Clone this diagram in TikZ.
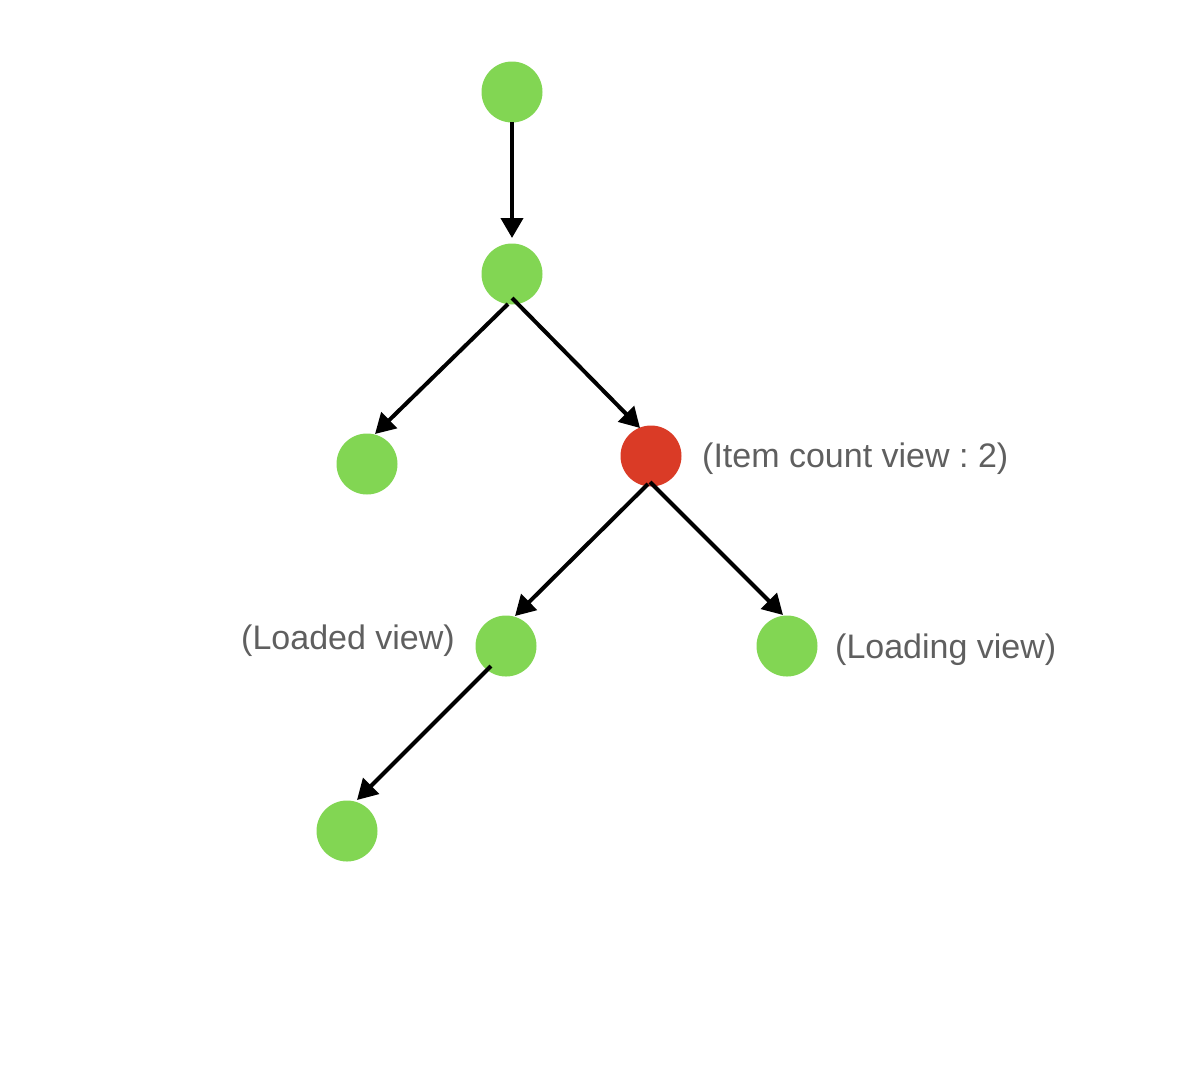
\documentclass[tikz,border=0pt]{standalone}
\usepackage{fontspec}
\setmainfont{Liberation Sans}
\usetikzlibrary{arrows.meta}
\definecolor{vgreen}{HTML}{82D653}
\definecolor{vred}{HTML}{DA3B26}
\definecolor{lbl}{HTML}{5F5F5F}
\tikzset{
  dot/.style={circle, fill=vgreen, minimum size=61pt, inner sep=0pt},
  reddot/.style={dot, fill=vred},
  conn/.style={line width=4pt, -{Triangle[length=20pt,width=22pt]}},
  lab/.style={text=lbl, font=\frenchspacing\fontsize{34}{38}\selectfont, inner sep=0pt}
}
\begin{document}
\begin{tikzpicture}[x=1pt,y=-1pt]
\useasboundingbox (0,0) rectangle (1178,1088);
\node[dot] (A) at (512,92) {};
\node[dot] (B) at (512,274) {};
\node[dot] (C) at (367,464) {};
\node[reddot] (D) at (651,456) {};
\node[dot] (E) at (506,646) {};
\node[dot] (F) at (787,646) {};
\node[dot] (G) at (347,831) {};
\node[lab, anchor=west] (LD) at (702,459) {(Item count view : 2)};
\node[lab, anchor=east] (LE) at (455,641) {(Loaded view)};
\node[lab, anchor=west] (LF) at (835,650) {(Loading view)};
\draw[conn] ([shift={(0,30)}]A.center) -- ([shift={(0,-36)}]B.center);
\draw[conn] ([shift={(-4,30)}]B.center) -- ([shift={(8,-30)}]C.center);
\draw[conn] ([shift={(0,24)}]B.center) -- ([shift={(-11,-28)}]D.center);
\draw[conn] ([shift={(-3,28)}]D.center) -- ([shift={(9,-30)}]E.center);
\draw[conn] ([shift={(-1,26)}]D.center) -- ([shift={(-4,-31)}]F.center);
\draw[conn] ([shift={(-15,20)}]E.center) -- ([shift={(10,-31)}]G.center);
\end{tikzpicture}
\end{document}
